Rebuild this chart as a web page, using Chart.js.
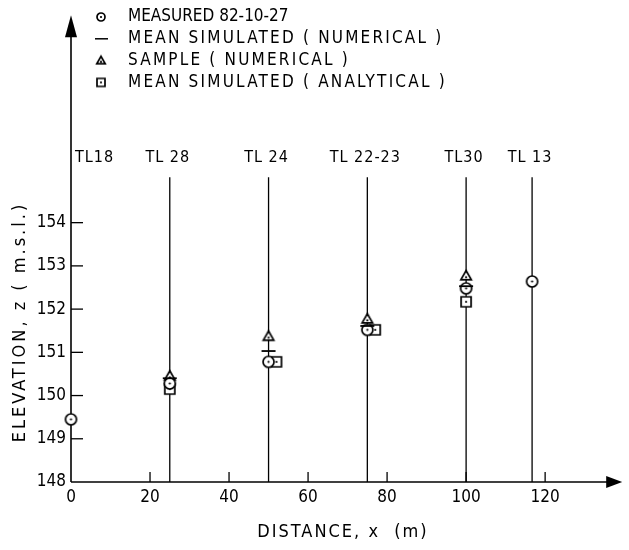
<!DOCTYPE html>
<html>
<head>
<meta charset="utf-8">
<script src="https://cdn.jsdelivr.net/npm/chart.js@4.4.1/dist/chart.umd.min.js"></script>
<style>
  html, body { margin: 0; padding: 0; background: #fff; }
  #wrap { width: 629px; height: 550px; }
</style>
</head>
<body>
<div id="wrap"><canvas id="myChart" width="629" height="550"></canvas></div>
<script>
// --------------- data -----------------------
const wellNames = ['TL18', 'TL 28', 'TL 24', 'TL 22-23', 'TL30', 'TL 13'];
const wellX = [0, 25, 50, 75, 100, 116.7];
const wellTop = 155.05;
const wellLabelZ = 155.5;

// measured 82-10-27
const measuredX = [0, 25, 50, 75, 100, 116.7];
const measuredZ = [149.45, 150.28, 150.78, 151.52, 152.48, 152.64];
// mean simulated (numerical)
const meanNumX = [25, 50, 75, 100];
const meanNumZ = [150.40, 151.03, 151.61, 152.53];
// sample (numerical)
const sampleX = [25, 50, 75, 100];
const sampleZ = [150.45, 151.37, 151.77, 152.77];
// mean simulated (analytical)
const meanAnaX = [25, 52, 77, 100];
const meanAnaZ = [150.15, 150.78, 151.52, 152.17];

const xTicks = [0, 20, 40, 60, 80, 100, 120];
const yTicks = [148, 149, 150, 151, 152, 153, 154];
const xMax = 139;
const yMax = 158.8;

const FONT = "'DejaVu Sans Condensed', 'Liberation Sans Narrow', sans-serif";

// --------------- marker images -----------------------
function makeMarker(kind, size) {
    const c = document.createElement('canvas');
    c.width = size + 6; c.height = size + 6;
    const g = c.getContext('2d');
    const m = c.width / 2;
    const h = size / 2;
    g.strokeStyle = '#000';
    g.fillStyle = '#fff';
    g.lineWidth = 1.7;
    g.beginPath();
    if (kind === 'circle') g.arc(m, m, h, 0, Math.PI * 2);
    if (kind === 'square') g.rect(m - h, m - h, size, size);
    if (kind === 'triangle') { g.moveTo(m, m - h); g.lineTo(m + h, m + h * 0.75); g.lineTo(m - h, m + h * 0.75); g.closePath(); }
    g.fill();
    g.stroke();
    g.fillStyle = '#000';
    g.beginPath();
    g.arc(m, kind === 'triangle' ? m + h * 0.25 : m, 1.1, 0, Math.PI * 2);
    g.fill();
    return c;
}
const circleImg = makeMarker('circle', 11);
const squareImg = makeMarker('square', 10);
const triImg = makeMarker('triangle', 10.5);
const circleSm = makeMarker('circle', 8);
const squareSm = makeMarker('square', 8);
const triSm = makeMarker('triangle', 8.5);

function pts(xs, ys) { return xs.map((x, i) => ({x: x, y: ys[i]})); }

// --------------- datasets -----------------------
const datasets = [];
wellX.forEach((x, i) => {
    if (x === 0) return; // TL18 sits on the z axis
    datasets.push({
        type: 'line', label: wellNames[i],
        data: [{x: x, y: 148}, {x: x, y: wellTop}],
        borderColor: '#000', borderWidth: 1.3, pointRadius: 0, order: 10
    });
});
datasets.push({ label: 'MEAN SIMULATED (ANALYTICAL)', data: pts(meanAnaX, meanAnaZ), pointStyle: squareImg, order: 3, clip: false });
datasets.push({ label: 'SAMPLE (NUMERICAL)', data: pts(sampleX, sampleZ), pointStyle: triImg, order: 2, clip: false });
datasets.push({ label: 'MEASURED 82-10-27', data: pts(measuredX, measuredZ), pointStyle: circleImg, order: 1, clip: false });
datasets.push({ label: 'MEAN SIMULATED (NUMERICAL)', data: pts(meanNumX, meanNumZ), pointStyle: 'line', pointRadius: 7,
    borderColor: '#000', pointBorderWidth: 1.8, order: 0, clip: false });

const legendRows = [
    {text: 'MEASURED 82-10-27', img: circleSm, sp: '0px'},
    {text: 'MEAN SIMULATED ( NUMERICAL )', img: null, sp: '2.2px'},
    {text: 'SAMPLE ( NUMERICAL )', img: triSm, sp: '2.2px'},
    {text: 'MEAN SIMULATED ( ANALYTICAL )', img: squareSm, sp: '2.2px'}
];

// --------------- axes, arrows, labels -----------------------
const decor = {
    id: 'decor',
    beforeDatasetsDraw(chart) {
        const ctx = chart.ctx;
        const a = chart.chartArea;
        const xs = chart.scales.x, ys = chart.scales.y;
        ctx.save();
        ctx.strokeStyle = '#000';
        ctx.fillStyle = '#000';
        ctx.lineWidth = 1.6;
        // z axis with arrow
        ctx.beginPath();
        ctx.moveTo(a.left, a.bottom);
        ctx.lineTo(a.left, a.top + 18);
        ctx.stroke();
        ctx.beginPath();
        ctx.moveTo(a.left, a.top);
        ctx.lineTo(a.left + 6, a.top + 22);
        ctx.lineTo(a.left - 6, a.top + 22);
        ctx.closePath();
        ctx.fill();
        // x axis with arrow
        ctx.beginPath();
        ctx.moveTo(a.left, a.bottom);
        ctx.lineTo(a.right - 12, a.bottom);
        ctx.stroke();
        ctx.beginPath();
        ctx.moveTo(a.right + 2, a.bottom);
        ctx.lineTo(a.right - 14, a.bottom - 6);
        ctx.lineTo(a.right - 14, a.bottom + 6);
        ctx.closePath();
        ctx.fill();
        // inward tick marks
        ctx.lineWidth = 1.3;
        yTicks.forEach(v => {
            if (v === 148) return;
            const py = ys.getPixelForValue(v);
            ctx.beginPath(); ctx.moveTo(a.left, py); ctx.lineTo(a.left + 12, py); ctx.stroke();
        });
        xTicks.forEach(v => {
            if (v === 0) return;
            const px = xs.getPixelForValue(v);
            ctx.beginPath(); ctx.moveTo(px, a.bottom); ctx.lineTo(px, a.bottom - 10); ctx.stroke();
        });
        // well names
        ctx.font = '16px ' + FONT;
        ctx.letterSpacing = '1px';
        ctx.textBaseline = 'middle';
        const ly = ys.getPixelForValue(wellLabelZ);
        wellX.forEach((x, i) => {
            const px = xs.getPixelForValue(x);
            ctx.textAlign = x === 0 ? 'left' : 'center';
            ctx.fillText(wellNames[i], x === 0 ? px + 4 : px - 2, ly);
        });
        // axis titles
        ctx.font = '18px ' + FONT;
        ctx.textAlign = 'center';
        ctx.letterSpacing = '2px';
        ctx.fillText('DISTANCE, x  (m)', 343, 532);
        ctx.letterSpacing = '3px';
        ctx.save();
        ctx.translate(20, 322);
        ctx.rotate(-Math.PI / 2);
        ctx.fillText('ELEVATION, z ( m.s.l.)', 0, 0);
        ctx.restore();
        // legend
        ctx.font = '17px ' + FONT;
        ctx.textAlign = 'left';
        legendRows.forEach((r, i) => {
            const y = 17 + i * 21.8;
            if (r.img) ctx.drawImage(r.img, 101 - r.img.width / 2, y - r.img.height / 2);
            else { ctx.lineWidth = 1.5; ctx.beginPath(); ctx.moveTo(95, y); ctx.lineTo(108, y); ctx.stroke(); }
            ctx.letterSpacing = r.sp;
            ctx.fillText(r.text, 128, y);
        });
        ctx.restore();
    }
};

// --------------- chart -----------------------
const myChart = new Chart(document.getElementById('myChart').getContext('2d'), {
    type: 'scatter',
    data: { datasets: datasets },
    options: {
        responsive: false,
        animation: false,
        events: [],
        layout: { padding: { top: 5, right: 3, left: 0, bottom: 0 } },
        plugins: { legend: { display: false }, tooltip: { enabled: false } },
        elements: { point: { radius: 5 } },
        scales: {
            x: {
                type: 'linear', min: 0, max: xMax,
                afterBuildTicks: s => { s.ticks = xTicks.map(v => ({value: v})); },
                afterFit: s => { s.height = 68; },
                grid: { display: false, drawTicks: false },
                border: { display: false },
                ticks: { color: '#000', padding: 5, font: { size: 17, family: FONT } }
            },
            y: {
                type: 'linear', min: 148, max: yMax,
                afterBuildTicks: s => { s.ticks = yTicks.map(v => ({value: v})); },
                afterFit: s => { s.width = 71; },
                grid: { display: false, drawTicks: false },
                border: { display: false },
                ticks: { color: '#000', padding: 5, font: { size: 17, family: FONT } }
            }
        }
    },
    plugins: [decor]
});
</script>
</body>
</html>
